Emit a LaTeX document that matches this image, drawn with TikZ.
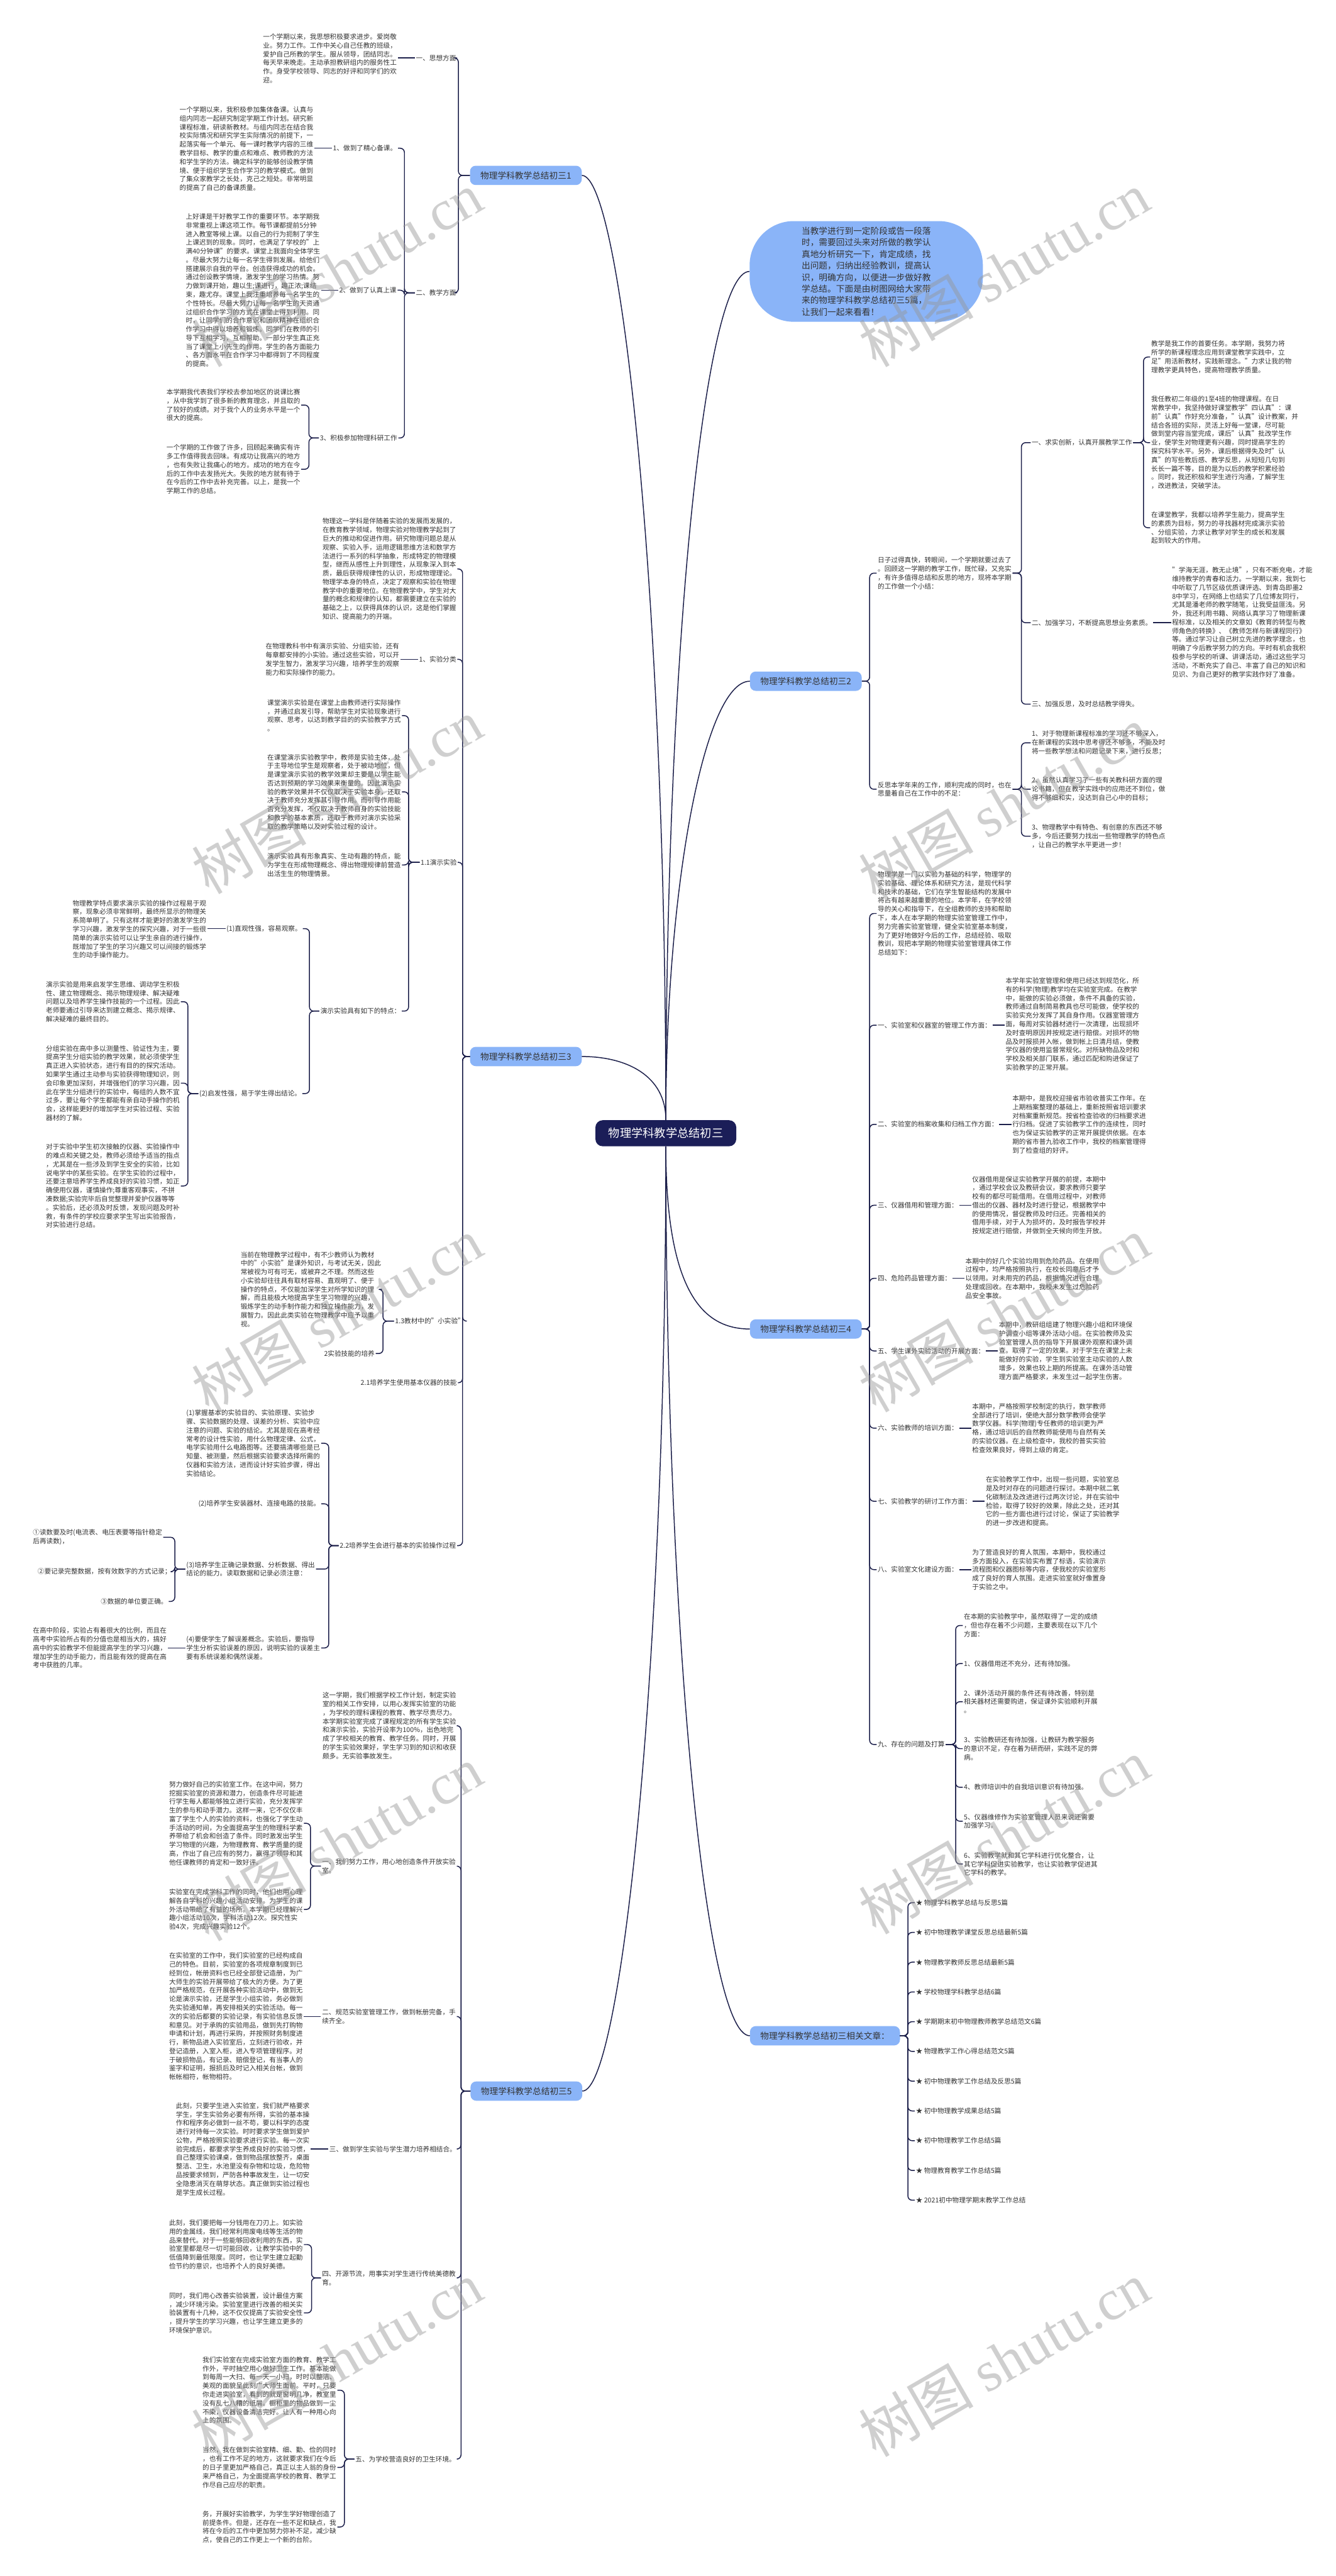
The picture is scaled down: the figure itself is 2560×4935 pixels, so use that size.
\documentclass[tikz,border=0pt]{standalone}
\usepackage{fontspec}
\setmainfont{Noto Sans CJK SC}
\newfontfamily\wmlatin{Liberation Serif}
\usetikzlibrary{positioning}
\definecolor{RootNavy}{RGB}{27,30,88}
\definecolor{TopicBlue}{RGB}{138,180,248}
\definecolor{LinkNavy}{RGB}{28,31,74}
\definecolor{TextGray}{RGB}{51,51,51}
\definecolor{MarkGray}{RGB}{150,150,150}

\begin{document}
\begin{tikzpicture}[x=1pt,y=-1pt,
rootnd/.style={fill=RootNavy,text=white,rounded corners=14pt,minimum width=270pt,minimum height=50pt,font=\fontsize{22}{26}\selectfont},
topic/.style={fill=TopicBlue,text=TextGray,rounded corners=11pt,inner xsep=20pt,minimum height=37pt,font=\fontsize{16.5}{20}\selectfont},
intro/.style={fill=TopicBlue,text=TextGray,rounded corners=85pt,minimum width=447pt,minimum height=193pt,align=left,font=\fontsize{16.5}{22.2}\selectfont},
para/.style={anchor=west,align=left,inner sep=2pt,text=TextGray,font=\fontsize{12.8}{16.6}\selectfont},
link/.style={draw=LinkNavy,line width=1.8pt,rounded corners=8pt},
curve/.style={draw=LinkNavy,line width=1.8pt},
wm/.style={text=MarkGray,text opacity=0.45,rotate=30,font=\fontsize{110}{110}\selectfont}
]
\fill[white] (0,0) rectangle (2560,4935);
\useasboundingbox (0,0) rectangle (2560,4935);

\node[rootnd] (root) at (1276,2171) {物理学科教学总结初三};
\node[intro] (intro) at (1660,520) {当教学进行到一定阶段或告一段落\\时，需要回过头来对所做的教学认\\真地分析研究一下，肯定成绩，找\\出问题，归纳出经验教训，提高认\\识，明确方向，以便进一步做好教\\学总结。下面是由树图网给大家带\\来的物理学科教学总结初三5篇，\\让我们一起来看看！};
\node[topic,anchor=east] (b1) at (1115,336) {物理学科教学总结初三1};
\node[topic,anchor=west] (b2) at (1437,1305) {物理学科教学总结初三2};
\node[topic,anchor=east] (b3) at (1115,2024) {物理学科教学总结初三3};
\node[topic,anchor=west] (b4) at (1437,2546) {物理学科教学总结初三4};
\node[topic,anchor=east] (b5) at (1116,4006) {物理学科教学总结初三5};
\node[topic,anchor=west] (b6) at (1437,3900) {物理学科教学总结初三相关文章：};

\draw[curve] (root.north) .. controls (1276,1150) and (1190,336) .. (b1.east);
\draw[curve] (root.north) .. controls (1276,1250) and (1350,520) .. (intro.west);
\draw[curve] (root.north) .. controls (1276,1700) and (1350,1305) .. (b2.west);
\draw[curve] (root.north) .. controls (1276,2060) and (1200,2024) .. (b3.east);
\draw[curve] (root.south) .. controls (1276,2480) and (1350,2546) .. (b4.west);
\draw[curve] (root.south) .. controls (1276,3200) and (1190,4006) .. (b5.east);
\draw[curve] (root.south) .. controls (1276,3100) and (1350,3900) .. (b6.west);

% branch 1
\node[para] (b1a) at (795,111) {一、思想方面};
\node[para] (b1a1) at (502,112) {一个学期以来，我思想积极要求进步。爱岗敬\\业。努力工作。工作中关心自己任教的班级，\\爱护自己所教的学生。服从领导，团结同志。\\每天早来晚走。主动承担教研组内的服务性工\\作。身受学校领导、同志的好评和同学们的欢\\迎。};
\node[para] (b1b) at (795,561) {二、教学方面};
\node[para] (b1b1) at (636,284) {1、做到了精心备课。};
\node[para] (b1b1a) at (342,285) {一个学期以来，我积极参加集体备课。认真与\\组内同志一起研究制定学期工作计划。研究新\\课程标准，研读新教材。与组内同志在结合我\\校实际情况和研究学生实际情况的前提下，一\\起落实每一个单元、每一课时教学内容的三维\\教学目标、教学的重点和难点、教师教的方法\\和学生学的方法。确定科学的能够创设教学情\\境、便于组织学生合作学习的教学模式。做到\\了集众家教学之长处，克己之短处。非常明显\\的提高了自己的备课质量。};
\node[para] (b1b2) at (648,556) {2、做到了认真上课};
\node[para] (b1b2a) at (354,556) {上好课是干好教学工作的重要环节。本学期我\\非常重视上课这项工作。每节课都提前5分钟\\进入教室等候上课。以自己的行为扼制了学生\\上课迟到的现象。同时，也满足了学校的"上\\满40分钟课"的要求。课堂上我面向全体学生\\。尽最大努力让每一名学生得到发展。给他们\\搭建展示自我的平台。创造获得成功的机会。\\通过创设教学情境，激发学生的学习热情。努\\力做到课开始，趣以生;课进行，趣正浓;课结\\束，趣尤存。课堂上我注重培养每一名学生的\\个性特长。尽最大努力让每一名学生的天资通\\过组织合作学习的方式在课堂上得到利用。同\\时，让同学们的合作意识和团队精神在组织合\\作学习中得以培养和锻炼。同学们在教师的引\\导下互相学习，互相帮助。一部分学生真正充\\当了课堂上小先生的作用。学生的各方面能力\\、各方面水平在合作学习中都得到了不同程度\\的提高。};
\node[para] (b1b3) at (611,839) {3、积极参加物理科研工作};
\node[para] (b1b3a) at (317,776) {本学期我代表我们学校去参加地区的说课比赛\\，从中我学到了很多新的教育理念，并且取的\\了较好的成绩。对于我个人的业务水平是一个\\很大的提高。};
\node[para] (b1b3b) at (317,899) {一个学期的工作做了许多，回顾起来确实有许\\多工作值得我去回味。有成功让我高兴的地方\\，也有失败让我痛心的地方。成功的地方在今\\后的工作中去发扬光大。失败的地方就有待于\\在今后的工作中去补充完善。以上，是我一个\\学期工作的总结。};
\foreach \c in {b1a,b1b} \draw[link] (b1.west) -- ++(-22,0) |- (\c.east);
\draw[link] (b1a.west) -- (b1a.west -| b1a1.east);
\foreach \c in {b1b1,b1b2,b1b3} \draw[link] (b1b.west) -- ++(-20,0) |- (\c.east);
\draw[link] (b1b1.west) -- (b1b1.west -| b1b1a.east);
\draw[link] (b1b2.west) -- (b1b2.west -| b1b2a.east);
\foreach \c in {b1b3a,b1b3b} \draw[link] (b1b3.west) -- ++(-19,0) |- (\c.east);

% branch 2
\node[para] (b2a) at (1680,1098) {日子过得真快，转眼间，一个学期就要过去了\\。回顾这一学期的教学工作，既忙碌，又充实\\，有许多值得总结和反思的地方，现将本学期\\的工作做一个小结：};
\node[para] (b2a1) at (1975,848) {一、求实创新，认真开展教学工作};
\node[para] (b2a1a) at (2204,684) {教学是我工作的首要任务。本学期，我努力将\\所学的新课程理念应用到课堂教学实践中，立\\足"用活新教材，实践新理念。"力求让我的物\\理教学更具特色，提高物理教学质量。};
\node[para] (b2a1b) at (2204,848) {我任教初二年级的1至4班的物理课程。在日\\常教学中，我坚持做好课堂教学"四认真"：课\\前"认真"作好充分准备，"认真"设计教案，并\\结合各班的实际，灵活上好每一堂课，尽可能\\做到堂内容当堂完成，课后"认真"批改学生作\\业，使学生对物理更有兴趣，同时提高学生的\\探究科学水平。另外，课后根据得失及时"认\\真"的写些教后感、教学反思，从短短几句到\\长长一篇不等，目的是为以后的教学积累经验\\。同时，我还积极和学生进行沟通，了解学生\\，改进教法，突破学法。};
\node[para] (b2a1c) at (2204,1011) {在课堂教学，我都以培养学生能力，提高学生\\的素质为目标，努力的寻找器材完成演示实验\\、分组实验，力求让教学对学生的成长和发展\\起到较大的作用。};
\node[para] (b2a2) at (1975,1193) {二、加强学习，不断提高思想业务素质。};
\node[para] (b2a2a) at (2244,1192) {"学海无涯，教无止境"，只有不断充电，才能\\维持教学的青春和活力。一学期以来，我到七\\中听取了几节区级优质课评选、到青岛即墨2\\8中学习，在网络上也结实了几位博友同行，\\尤其是潘老师的教学随笔，让我受益匪浅。另\\外，我还利用书籍、网络认真学习了物理新课\\程标准，以及相关的文章如《教育的转型与教\\师角色的转换》、《教师怎样与新课程同行》\\等。通过学习让自己树立先进的教学理念，也\\明确了今后教学努力的方向。平时有机会我积\\极参与学校的听课、讲课活动，通过这些学习\\活动，不断充实了自己、丰富了自己的知识和\\见识、为自己更好的教学实践作好了准备。};
\node[para] (b2a3) at (1975,1349) {三、加强反思，及时总结教学得失。};
\node[para] (b2b) at (1680,1512) {反思本学年来的工作，顺利完成的同时，也在\\思量着自己在工作中的不足：};
\node[para] (b2b1) at (1975,1423) {1、对于物理新课程标准的学习还不够深入，\\在新课程的实践中思考得还不够多，不能及时\\将一些教学想法和问题记录下来，进行反思；};
\node[para] (b2b2) at (1975,1512) {2、虽然认真学习了一些有关教科研方面的理\\论书籍，但在教学实践中的应用还不到位，做\\得不够细和实，没达到自己心中的目标；};
\node[para] (b2b3) at (1975,1602) {3、物理教学中有特色、有创意的东西还不够\\多，今后还要努力找出一些物理教学的特色点\\，让自己的教学水平更进一步！};
\foreach \c in {b2a,b2b} \draw[link] (b2.east) -- ++(15,0) |- (\c.west);
\foreach \c in {b2a1,b2a2,b2a3} \draw[link] (b2a.east) -- ++(17,0) |- (\c.west);
\foreach \c in {b2a1a,b2a1b,b2a1c} \draw[link] (b2a1.east) -- ++(20,0) |- (\c.west);
\draw[link] (b2a2.east) -- (b2a2.east -| b2a2a.west);
\foreach \c in {b2b1,b2b2,b2b3} \draw[link] (b2b.east) -- ++(17,0) |- (\c.west);

% branch 3
\node[para] (b3a) at (616,1090) {物理这一学科是伴随着实验的发展而发展的，\\在教育教学领域，物理实验对物理教学起到了\\巨大的推动和促进作用。研究物理问题总是从\\观察、实验入手，运用逻辑思维方法和数学方\\法进行一系列的科学抽象，形成特定的物理模\\型，继而从感性上升到理性，从现象深入到本\\质，最后获得规律性的认识，形成物理理论。\\物理学本身的特点，决定了观察和实验在物理\\教学中的重要地位。在物理教学中，学生对大\\量的概念和规律的认知，都需要建立在实验的\\基础之上，以获得具体的认识，这是他们掌握\\知识、提高能力的开端。};
\node[para] (b3b) at (801,1263) {1、实验分类};
\node[para] (b3b1) at (507,1263) {在物理教科书中有演示实验、分组实验，还有\\每章都安排的小实验。通过这些实验，可以开\\发学生智力，激发学习兴趣，培养学生的观察\\能力和实际操作的能力。};
\node[para] (b3c) at (804,1652) {1.1演示实验};
\node[para] (b3c1) at (510,1371) {课堂演示实验是在课堂上由教师进行实际操作\\，并通过启发引导，帮助学生对实验现象进行\\观察、思考，以达到教学目的的实验教学方式\\。};
\node[para] (b3c2) at (510,1517) {在课堂演示实验教学中，教师是实验主体，处\\于主导地位学生是观察者，处于被动地位，但\\是课堂演示实验的教学效果却主要是以学生能\\否达到预期的学习效果来衡量的。因此演示实\\验的教学效果并不仅仅取决于实验本身，还取\\决于教师充分发挥其引导作用。而引导作用能\\否充分发挥，不仅取决于教师自身的实验技能\\和教学的基本素质，还取于教师对演示实验采\\取的教学策略以及对实验过程的设计。};
\node[para] (b3c3) at (510,1657) {演示实验具有形象真实、生动有趣的特点，能\\为学生在形成物理概念、得出物理规律前营造\\出活生生的物理情景。};
\node[para] (b3c4) at (612,1937) {演示实验具有如下的特点：};
\node[para] (b3c4a) at (432,1779) {(1)直观性强，容易观察。};
\node[para] (b3c4a1) at (137,1780) {物理教学特点要求演示实验的操作过程易于观\\察，现象必须非常鲜明，最终所显示的物理关\\系简单明了。只有这样才能更好的激发学生的\\学习兴趣，激发学生的探究兴趣，对于一些很\\简单的演示实验可以让学生亲自的进行操作，\\既增加了学生的学习兴趣又可以间接的锻炼学\\生的动手操作能力。};
\node[para] (b3c4b) at (380,2095) {(2)启发性强，易于学生得出结论。};
\node[para] (b3c4b1) at (86,1919) {演示实验是用来启发学生思维、调动学生积极\\性、建立物理概念、揭示物理规律、解决疑难\\问题以及培养学生操作技能的一个过程。因此\\老师要通过引导来达到建立概念、揭示规律、\\解决疑难的最终目的。};
\node[para] (b3c4b2) at (86,2075) {分组实验在高中多以测量性、验证性为主，要\\提高学生分组实验的教学效果，就必须使学生\\真正进入实验状态，进行有目的的探究活动。\\如果学生通过主动参与实验获得物理知识，则\\会印象更加深刻，并增强他们的学习兴趣，因\\此在学生分组进行的实验中，每组的人数不宜\\过多，要让每个学生都能有亲自动手操作的机\\会，这样能更好的增加学生对实验过程、实验\\器材的了解。};
\node[para] (b3c4b3) at (86,2272) {对于实验中学生初次接触的仪器、实验操作中\\的难点和关键之处，教师必须给予适当的指点\\，尤其是在一些涉及到学生安全的实验，比如\\说电学中的某些实验。在学生实验的过程中，\\还要注意培养学生养成良好的实验习惯，如正\\确使用仪器，谨慎操作;尊重客观事实，不拼\\凑数据;实验完毕后自觉整理并爱护仪器等等\\。实验后，还必须及时反馈，发现问题及时补\\救，有条件的学校应要求学生写出实验报告，\\对实验进行总结。};
\node[para] (b3d) at (755,2531) {1.3教材中的"小实验"};
\node[para] (b3d1) at (459,2470) {当前在物理教学过程中，有不少教师认为教材\\中的"小实验"是课外知识，与考试无关，因此\\常被视为可有可无，或被弃之不理。然而这些\\小实验却往往具有取材容易、直观明了、便于\\操作的特点，不仅能加深学生对所学知识的理\\解，而且能极大地提高学生学习物理的兴趣，\\锻炼学生的动手制作能力和独立操作能力，发\\展智力。因此此类实验在物理教学中应予以重\\视。};
\node[para] (b3d2) at (619,2593) {2实验技能的培养};
\node[para] (b3e) at (689,2649) {2.1培养学生使用基本仪器的技能};
\node[para] (b3f) at (649,2961) {2.2培养学生会进行基本的实验操作过程};
\node[para] (b3f1) at (355,2765) {(1)掌握基本的实验目的、实验原理、实验步\\骤、实验数据的处理、误差的分析、实验中应\\注意的问题、实验的结论。尤其是现在高考经\\常考的设计性实验，用什么物理定律、公式，\\电学实验用什么电路图等。还要搞清哪些是已\\知量、被测量，然后根据实验要求选择所需的\\仪器和实验方法，进而设计好实验步骤，得出\\实验结论。};
\node[para] (b3f2) at (378,2881) {(2)培养学生安装器材、连接电路的技能。};
\node[para] (b3f3) at (355,3006) {(3)培养学生正确记录数据、分析数据、得出\\结论的能力。读取数据和记录必须注意：};
\node[para] (b3f3a) at (61,2945) {①读数要及时(电流表、电压表要等指针稳定\\后再读数)，};
\node[para] (b3f3b) at (70,3011) {②要记录完整数据，按有效数字的方式记录；};
\node[para] (b3f3c) at (191,3068) {③数据的单位要正确。};
\node[para] (b3f4) at (355,3157) {(4)要使学生了解误差概念。实验后，要指导\\学生分析实验误差的原因，说明实验的误差主\\要有系统误差和偶然误差。};
\node[para] (b3f4a) at (61,3157) {在高中阶段，实验占有着很大的比例，而且在\\高考中实验所占有的分值也是相当大的，搞好\\高中的实验教学不但能提高学生的学习兴趣，\\增加学生的动手能力，而且能有效的提高在高\\考中获胜的几率。};
\foreach \c in {b3a,b3b,b3c,b3d,b3e,b3f} \draw[link] (b3.west) -- ++(-14,0) |- (\c.east);
\draw[link] (b3b.west) -- (b3b.west -| b3b1.east);
\foreach \c in {b3c1,b3c2,b3c3,b3c4} \draw[link] (b3c.west) -- ++(-21,0) |- (\c.east);
\foreach \c in {b3c4a,b3c4b} \draw[link] (b3c4.west) -- ++(-19,0) |- (\c.east);
\draw[link] (b3c4a.west) -- (b3c4a.west -| b3c4a1.east);
\foreach \c in {b3c4b1,b3c4b2,b3c4b3} \draw[link] (b3c4b.west) -- ++(-20,0) |- (\c.east);
\foreach \c in {b3d1,b3d2} \draw[link] (b3d.west) -- ++(-21,0) |- (\c.east);
\foreach \c in {b3f1,b3f2,b3f3,b3f4} \draw[link] (b3f.west) -- ++(-19,0) |- (\c.east);
\foreach \c in {b3f3a,b3f3b,b3f3c} \draw[link] (b3f3.west) -- ++(-20,0) |- (\c.east);
\draw[link] (b3f4.west) -- (b3f4.west -| b3f4a.east);

% branch 4
\node[para] (b4a) at (1680,1750) {物理学是一门以实验为基础的科学，物理学的\\实验基础、理论体系和研究方法，是现代科学\\和技术的基础，它们在学生智能结构的发展中\\将占有越来越重要的地位。本学年，在学校领\\导的关心和指导下，在全组教师的支持和帮助\\下，本人在本学期的物理实验室管理工作中，\\努力完善实验室管理，健全实验室基本制度，\\为了更好地做好今后的工作，总结经验、吸取\\教训，现把本学期的物理实验室管理具体工作\\总结如下：};
\node[para] (b4b) at (1680,1964) {一、实验室和仪器室的管理工作方面：};
\node[para] (b4b1) at (1925,1962) {本学年实验室管理和使用已经达到规范化，所\\有的科学(物理)教学均在实验室完成。在教学\\中，能做的实验必须做，条件不具备的实验，\\教师通过自制简易教具也尽可能做，使学校的\\实验实充分发挥了其自身作用。仪器室管理方\\面，每周对实验器材进行一次清理，出现损坏\\及时查明原因并按规定进行赔偿。对损坏的物\\品及时报损并入帐，做到帐上日清月结，使教\\学仪器的使用监督常规化。对所缺物品及时和\\学校及相关部门联系，通过匹配和购进保证了\\实验教学的正常开展。};
\node[para] (b4c) at (1680,2154) {二、实验室的档案收集和归档工作方面：};
\node[para] (b4c1) at (1938,2154) {本期中，是我校迎接省市验收普实工作年。在\\上期档案整理的基础上，重新按照省培训要求\\对档案重新规范。按省检查验收的归档要求进\\行归档。促进了实验教学工作的连续性，同时\\也为保证实验教学的正常开展提供依据。在本\\期的省市普九验收工作中，我校的档案管理得\\到了检查组的好评。};
\node[para] (b4d) at (1680,2309) {三、仪器借用和管理方面：};
\node[para] (b4d1) at (1861,2309) {仪器借用是保证实验教学开展的前提，本期中\\，通过学校会议及教研会议，要求教师只要学\\校有的都尽可能借用。在借用过程中，对教师\\借出的仪器、器材及时进行登记，根据教学中\\的使用情况，督促教师及时归还。完善相关的\\借用手续，对于人为损坏的，及时报告学校并\\按规定进行赔偿，并做到全天候向师生开放。};
\node[para] (b4e) at (1680,2449) {四、危险药品管理方面：};
\node[para] (b4e1) at (1848,2449) {本期中的好几个实验均用到危险药品。在使用\\过程中，均严格按照执行，在校长同意后才予\\以领用。对未用完的药品，根据情况进行合理\\处理或回收。在本期中，我校未发生过危险药\\品安全事故。};
\node[para] (b4f) at (1680,2588) {五、学生课外实验活动的开展方面：};
\node[para] (b4f1) at (1912,2588) {本期中，教研组组建了物理兴趣小组和环境保\\护调查小组等课外活动小组。在实验教师及实\\验室管理人员的指导下开展课外观察和课外调\\查。取得了一定的效果。对于学生在课堂上未\\能做好的实验，学生到实验室主动实验的人数\\增多，效果也较上期的所提高。在课外活动管\\理方面严格要求，未发生过一起学生伤害。};
\node[para] (b4g) at (1680,2736) {六、实验教师的培训方面：};
\node[para] (b4g1) at (1861,2736) {本期中，严格按照学校制定的执行，数学教师\\全部进行了培训，使绝大部分数学教师会使学\\数学仪器。科学(物理)专任教师的培训更为严\\格，通过培训后的自然教师能使用与自然有关\\的实验仪器。在上级检查中，我校的普实实验\\检查效果良好，得到上级的肯定。};
\node[para] (b4h) at (1680,2876) {七、实验教学的研讨工作方面：};
\node[para] (b4h1) at (1887,2876) {在实验教学工作中，出现一些问题，实验室总\\是及时对存在的问题进行探讨。本期中就二氧\\化碳制法及改进进行过两次讨论，并在实验中\\检验，取得了较好的效果，除此之处，还对其\\它的一些方面也进行过讨论，保证了实验教学\\的进一步改进和提高。};
\node[para] (b4i) at (1680,3007) {八、实验室文化建设方面：};
\node[para] (b4i1) at (1861,3007) {为了营造良好的育人氛围，本期中，我校通过\\多方面投入，在实验实布置了标语，实验演示\\流程图和仪器图标等内容，使我校的实验室形\\成了良好的育人氛围。走进实验室就好像置身\\于实验之中。};
\node[para] (b4j) at (1680,3342) {九、存在的问题及打算};
\node[para] (b4j1) at (1845,3114) {在本期的实验教学中，虽然取得了一定的成绩\\，但也存在着不少问题，主要表现在以下几个\\方面：};
\node[para] (b4j2) at (1845,3187) {1、仪器借用还不充分，还有待加强。};
\node[para] (b4j3) at (1845,3260) {2、课外活动开展的条件还有待改善，特别是\\相关器材还需要购进，保证课外实验顺利开展\\。};
\node[para] (b4j4) at (1845,3350) {3、实验教研还有待加强，让教研为教学服务\\的意识不足，存在着为研而研，实践不足的弊\\病。};
\node[para] (b4j5) at (1845,3424) {4、教师培训中的自我培训意识有待加强。};
\node[para] (b4j6) at (1845,3489) {5、仪器维修作为实验室管理人员来说还需要\\加强学习。};
\node[para] (b4j7) at (1845,3571) {6、实验教学就和其它学科进行优化整合，让\\其它学科促进实验教学，也让实验教学促进其\\它学科的教学。};
\foreach \c in {b4a,b4b,b4c,b4d,b4e,b4f,b4g,b4h,b4i,b4j} \draw[link] (b4.east) -- ++(15,0) |- (\c.west);
\foreach \c in {b4b,b4c,b4d,b4e,b4f,b4g,b4h,b4i} \draw[link] (\c.east) -- (\c.east -| \c1.west);
\foreach \c in {b4j1,b4j2,b4j3,b4j4,b4j5,b4j6,b4j7} \draw[link] (b4j.east) -- ++(19,0) |- (\c.west);

% related articles
\foreach \t [count=\i from 0] in {物理学科教学总结与反思5篇,初中物理教学课堂反思总结最新5篇,物理教学教师反思总结最新5篇,学校物理学科教学总结6篇,学期期末初中物理教师教学总结范文6篇,物理教学工作心得总结范文5篇,初中物理教学工作总结及反思5篇,初中物理教学成果总结5篇,初中物理教学工作总结5篇,物理教育教学工作总结5篇,2021初中物理学期末教学工作总结}
{
\node[para] (r\i) at (1753,{3645+57*\i}) {★ \t};
\draw[link] (b6.east) -- ++(15,0) |- (r\i.west);
}

% branch 5
\node[para] (b5a) at (616,3306) {这一学期，我们根据学校工作计划，制定实验\\室的相关工作安排，以用心发挥实验室的功能\\，为学校的理科课程的教育、教学尽责尽力。\\本学期实验室完成了课程规定的所有学生实验\\和演示实验，实验开设率为100\%，出色地完\\成了学校相关的教育、教学任务。同时，开展\\的学生实验效果好，学生学习到的知识和收获\\颇多。无实验事故发生。};
\node[para] (b5b) at (615,3575) {一、我们努力工作，用心地创造条件开放实验\\室。};
\node[para] (b5b1) at (322,3493) {努力做好自己的实验室工作。在这中间，努力\\挖掘实验室的资源和潜力，创造条件尽可能进\\行学生每人都能够独立进行实验，充分发挥学\\生的参与和动手潜力。这样一来，它不仅仅丰\\富了学生个人的实验的资料，也强化了学生动\\手活动的时间，为全面提高学生的物理科学素\\养带给了机会和创造了条件。同时激发出学生\\学习物理的兴趣，为物理教育、教学质量的提\\高，作出了自己应有的努力，赢得了领导和其\\他任课教师的肯定和一致好评。};
\node[para] (b5b2) at (322,3658) {实验室在完成学科工作的同时，他们也用心理\\解各自学科的兴趣小组活动安排。为学生的课\\外活动带给了有益的场所。本学期已经理解兴\\趣小组活动10次，学科活动12次。探究性实\\验4次，完成兴趣实验12个。};
\node[para] (b5c) at (615,3863) {二、规范实验室管理工作，做到帐册完备，手\\续齐全。};
\node[para] (b5c1) at (322,3863) {在实验室的工作中，我们实验室的已经构成自\\己的特色。目前，实验室的各项规章制度到已\\经到位，帐册资料也已经全部登记造册，为广\\大师生的实验开展带给了极大的方便。为了更\\加严格规范，在开展各种实验活动中，做到无\\论是演示实验，还是学生小组实验，务必做到\\先实验通知单，再安排相关的实验活动。每一\\次的实验后都要的实验记录，有实验信息反馈\\和意见。对于承购的实验用品，做到先打购物\\申请和计划，再进行采购，并按照财务制度进\\行，新物品进入实验室后，立刻进行验收，并\\登记造册，入室入柜，进入专项管理程序。对\\于破损物品，有记录、赔偿登记，有当事人的\\鉴字和证明，报损后及时记入相关台帐，做到\\帐帐相符，帐物相符。};
\node[para] (b5d) at (629,4117) {三、做到学生实验与学生潜力培养相结合。};
\node[para] (b5d1) at (335,4117) {此刻，只要学生进入实验室，我们就严格要求\\学生，学生实验务必要有所得，实验的基本操\\作和程序务必做到一丝不苟，要以科学的态度\\进行对待每一次实验。时时要求学生做到爱护\\公物，严格按照实验要求进行实验。每一次实\\验完成后，都要求学生养成良好的实验习惯，\\自己整理实验课桌，做到物品摆放整齐，桌面\\整洁、卫生，水池里没有杂物和垃圾，危险物\\品按要求倾到，严防各种事故发生，让一切安\\全隐患消灭在萌芽状态。真正做到实验过程也\\是学生成长过程。};
\node[para] (b5e) at (615,4364) {四、开源节流，用事实对学生进行传统美德教\\育。};
\node[para] (b5e1) at (322,4300) {此刻，我们要把每一分钱用在刀刃上。如实验\\用的金属线，我们经常利用废电线等生活的物\\品来替代。对于一些能够回收利用的东西，实\\验室里都是尽一切可能回收，让教学实验中的\\低值降到最低限度。同时，也让学生建立起勤\\俭节约的意识，也培养个人的良好美德。};
\node[para] (b5e2) at (322,4431) {同时，我们用心改善实验装置，设计最佳方案\\，减少环境污染。实验室里进行改善的相关实\\验装置有十几种，这不仅仅提高了实验安全性\\，提升学生的学习兴趣，也让学生建立更多的\\环境保护意识。};
\node[para] (b5f) at (679,4711) {五、为学校营造良好的卫生环境。};
\node[para] (b5f1) at (386,4579) {我们实验室在完成实验室方面的教育、教学工\\作外，平时抽空用心做好卫生工作。基本能做\\到每周一大扫、每一天一小扫，时时以整洁、\\美观的面貌呈此刻广大师生面前。平时，只要\\你走进实验室，看到的就是窗明几净，教室里\\没有乱七八糟的纸屑。橱柜里的物品做到一尘\\不染，仪器设备清洁完好。让人有一种用心向\\上的氛围。};
\node[para] (b5f2) at (386,4727) {当然，我在做到实验室精、细、勤、俭的同时\\，也有工作不足的地方，这就要求我们在今后\\的日子里更加严格自己，真正以主人翁的身份\\来严格自己，为全面提高学校的教育、教学工\\作尽自己应尽的职责。};
\node[para] (b5f3) at (386,4841) {务，开展好实验教学，为学生学好物理创造了\\前提条件。但是，还存在一些不足和缺点，我\\将在今后的工作中更加努力弥补不足，减少缺\\点，使自己的工作更上一个新的台阶。};
\foreach \c in {b5a,b5b,b5c,b5d,b5e,b5f} \draw[link] (b5.west) -- ++(-18,0) |- (\c.east);
\foreach \c in {b5b1,b5b2} \draw[link] (b5b.west) -- ++(-20,0) |- (\c.east);
\draw[link] (b5c.west) -- (b5c.west -| b5c1.east);
\draw[link] (b5d.west) -- (b5d.west -| b5d1.east);
\foreach \c in {b5e1,b5e2} \draw[link] (b5e.west) -- ++(-18,0) |- (\c.east);
\foreach \c in {b5f1,b5f2,b5f3} \draw[link] (b5f.west) -- ++(-19,0) |- (\c.east);

% watermarks
\foreach \wx/\wy in {646/516,1924/516,646/1525,1924/1540,646/2519,1924/2518,646/3531,1924/3518,646/4519,1924/4519}
\node[wm] at (\wx,\wy) {树图 {\wmlatin shutu.cn}};
\end{tikzpicture}
\end{document}
